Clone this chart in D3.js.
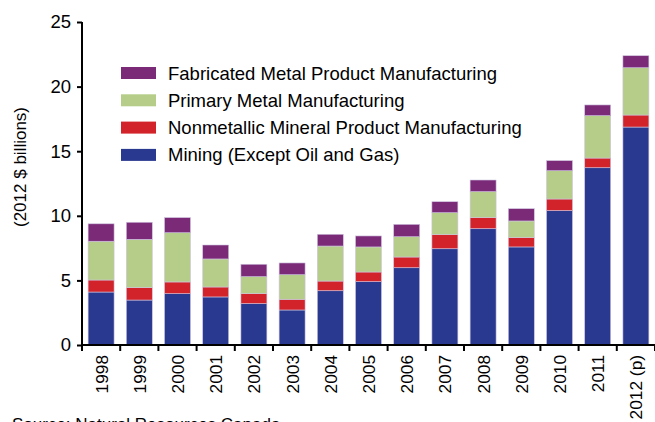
<!DOCTYPE html>
<html><head><meta charset="utf-8">
<script src="https://cdn.jsdelivr.net/npm/d3@7"></script>
<style>body{margin:0;background:#fff}svg{display:block;font-family:"Liberation Sans",Arial,sans-serif}</style>
</head><body><svg id="c" width="655" height="422"></svg>
<script>
const years = ["1998","1999","2000","2001","2002","2003","2004","2005","2006","2007","2008","2009","2010","2011","2012 (p)"];
const mining      = [4.10,3.48,3.97,3.72,3.20,2.71,4.20,4.90,5.98,7.45,9.00,7.59,10.40,13.72,16.87];
const nonmetallic = [0.93,0.96,0.91,0.77,0.77,0.83,0.75,0.75,0.83,1.09,0.86,0.72,0.90,0.75,0.93];
const primary     = [3.00,3.74,3.81,2.17,1.32,1.90,2.71,1.94,1.57,1.70,2.01,1.29,2.19,3.28,3.66];
const fabricated  = [1.35,1.32,1.17,1.08,0.96,0.91,0.91,0.85,0.96,0.85,0.90,0.95,0.78,0.83,0.93];
const seriesNames = ["Mining (Except Oil and Gas)","Nonmetallic Mineral Product Manufacturing","Primary Metal Manufacturing","Fabricated Metal Product Manufacturing"];
const colors = ["#2a3990","#d2232a","#b5cd88","#7b2a78"];
const yTicks = [0,5,10,15,20,25];

const svg = d3.select("#c");
const m = {left:82};
const x = d3.scaleBand().domain(years).range([m.left, 655]).paddingInner(0.32).paddingOuter(0.16);
const y = d3.scaleLinear().domain([0,25]).range([345, 22]);

const rows = years.map((yr,i)=>({year:yr, s0:mining[i], s1:nonmetallic[i], s2:primary[i], s3:fabricated[i]}));
const stack = d3.stack().keys(["s0","s1","s2","s3"])(rows);

svg.append("g").selectAll("g").data(stack).join("g")
  .attr("fill",(d,i)=>colors[i])
  .selectAll("rect").data(d=>d).join("rect")
  .attr("x",d=>x(d.data.year))
  .attr("width",x.bandwidth())
  .attr("y",d=>y(d[1]))
  .attr("height",d=>y(d[0])-y(d[1]))
  .attr("stroke","#cfc6e0").attr("stroke-width",0.6);

// y axis
const ya = svg.append("g").attr("transform",`translate(${m.left},0)`)
  .call(d3.axisLeft(y).tickValues(yTicks).tickSize(5).tickPadding(6));
ya.select(".domain").attr("stroke","#000").attr("stroke-width",2).attr("d",`M0,${y(25)}V${y(0)}`);
ya.selectAll(".tick line").attr("stroke","#000").attr("stroke-width",2);
ya.selectAll("text").attr("font-size",18.5).attr("fill","#000").attr("font-family","Liberation Sans, Arial, sans-serif");

// x axis
const xa = svg.append("g").attr("transform",`translate(0,${y(0)})`);
xa.append("line").attr("x1",m.left).attr("x2",655).attr("stroke","#000").attr("stroke-width",2);
const step = x.step();
xa.selectAll("line.t").data(d3.range(years.length+1)).join("line").attr("class","t")
  .attr("x1",i=>m.left+i*step).attr("x2",i=>m.left+i*step).attr("y1",0).attr("y2",6)
  .attr("stroke","#000").attr("stroke-width",2);
xa.selectAll("text").data(years).join("text")
  .attr("transform",d=>`translate(${x(d)+x.bandwidth()/2+6.5},10) rotate(-90)`)
  .attr("text-anchor","end").attr("font-size",17.3).attr("fill","#000").text(d=>d);

// axis label
svg.append("text").attr("transform","translate(26,167) rotate(-90)")
  .attr("text-anchor","middle").attr("font-size",17).text("(2012 $ billions)");

// legend
const legOrder = [3,2,1,0];
const lg = svg.append("g");
legOrder.forEach((si,k)=>{
  const cy = 73 + k*27.3;
  lg.append("rect").attr("x",121).attr("y",cy-6).attr("width",35).attr("height",12).attr("fill",colors[si]);
  lg.append("text").attr("x",168).attr("y",cy+6.5).attr("font-size",18.5).text(seriesNames[si]);
});

// source
svg.append("text").attr("x",12).attr("y",430).attr("font-size",17).text("Source: Natural Resources Canada");
</script></body></html>
